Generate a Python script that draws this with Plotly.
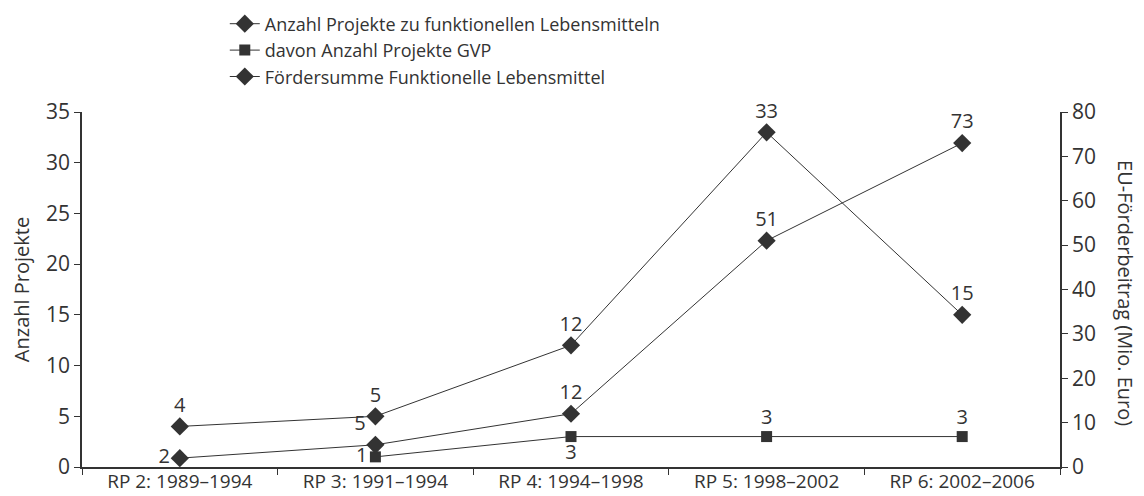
import plotly.graph_objects as go

categories = ["RP 2: 1989–1994", "RP 3: 1991–1994", "RP 4: 1994–1998", "RP 5: 1998–2002", "RP 6: 2002–2006"]
anzahl_projekte = [4, 5, 12, 33, 15]
gvp_projekte = [None, 1, 3, 3, 3]
foerdersumme = [2, 5, 12, 51, 73]

left_ticks = [0, 5, 10, 15, 20, 25, 30, 35]
right_ticks = [0, 10, 20, 30, 40, 50, 60, 70, 80]

C = "#333333"
FONT = "Open Sans"
LBL = 20

fig = go.Figure()

fig.add_trace(go.Scatter(
    x=categories, y=anzahl_projekte, name="Anzahl Projekte zu funktionellen Lebensmitteln",
    mode="lines+markers+text", text=[str(v) for v in anzahl_projekte],
    textposition="top center", textfont=dict(size=LBL, color=C, family=FONT),
    cliponaxis=False,
    line=dict(color=C, width=1), marker=dict(symbol="diamond", size=14, color=C),
    legendgroup="a", yaxis="y"))

fig.add_trace(go.Scatter(
    x=categories, y=gvp_projekte, name="davon Anzahl Projekte GVP",
    mode="lines+markers+text", text=["" if v is None else str(v) for v in gvp_projekte],
    textposition=["top center", "middle left", "bottom center", "top center", "top center"],
    textfont=dict(size=LBL, color=C, family=FONT),
    cliponaxis=False,
    line=dict(color=C, width=1), marker=dict(symbol="square", size=11, color=C),
    legendgroup="b", yaxis="y"))

fig.add_trace(go.Scatter(
    x=categories, y=foerdersumme, name="Fördersumme Funktionelle Lebensmittel",
    mode="lines+markers+text", text=[str(v) for v in foerdersumme],
    textposition=["middle left", "top left", "top center", "top center", "top center"],
    textfont=dict(size=LBL, color=C, family=FONT),
    cliponaxis=False,
    line=dict(color=C, width=1), marker=dict(symbol="diamond", size=14, color=C),
    legendgroup="c", yaxis="y2"))

fig.update_layout(
    width=1136, height=488,
    margin=dict(l=74, r=84, t=104, b=29, autoexpand=False),
    paper_bgcolor="white", plot_bgcolor="white",
    font=dict(family=FONT, color=C, size=16),
    showlegend=True,
    legend=dict(x=0.146, y=1.30, xanchor="left", yanchor="top",
                font=dict(size=18, color=C, family=FONT),
                traceorder="grouped", tracegroupgap=0,
                bgcolor="rgba(0,0,0,0)"),
    xaxis=dict(type="category", tickson="boundaries", ticks="outside", ticklen=6,
               ticklabelstandoff=-4,
               tickcolor=C, showline=True, linecolor=C, linewidth=1.5,
               showgrid=False, tickfont=dict(size=19, color=C), range=[-0.5, 4.5]),
    yaxis=dict(range=[0, 35], tickvals=left_ticks, ticks="outside", ticklen=6, tickcolor=C,
               showline=True, linecolor=C, linewidth=1.5, showgrid=False, zeroline=False,
               tickfont=dict(size=21, color=C),
               title=dict(text="Anzahl Projekte", font=dict(size=20, color=C), standoff=14)),
    yaxis2=dict(range=[0, 80], tickvals=right_ticks, overlaying="y", side="right",
                ticks="outside", ticklen=6, tickcolor=C, showline=True, linecolor=C,
                linewidth=1.5, showgrid=False, zeroline=False,
                tickfont=dict(size=21, color=C)),
    annotations=[dict(text="EU-Förderbeitrag (Mio. Euro)", textangle=90,
                      xref="paper", yref="paper", x=1.0675, y=0.49,
                      xanchor="center", yanchor="middle", showarrow=False,
                      font=dict(size=20, color=C, family=FONT))],
)

fig.write_html("out.html")
